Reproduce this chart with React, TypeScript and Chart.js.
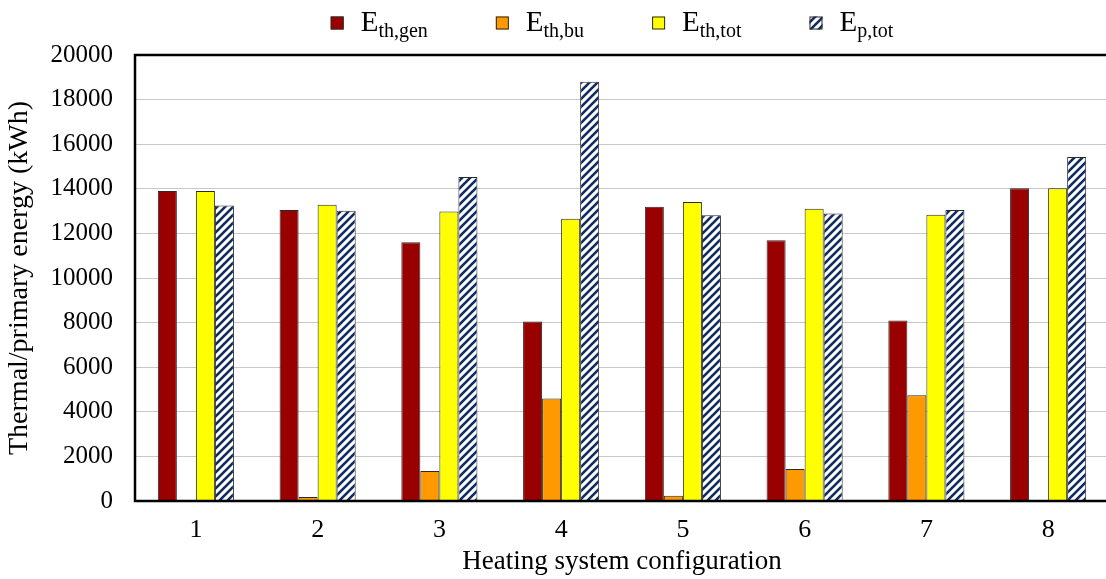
import React, { useEffect, useRef } from 'react';
import { Chart, registerables } from 'chart.js';

Chart.register(...registerables);

// ---- data ----
const categories = ['1', '2', '3', '4', '5', '6', '7', '8'];
const eThGen = [13900, 13050, 11600, 8050, 13200, 11690, 8090, 14020];
const eThBu = [0, 180, 1340, 4600, 230, 1430, 4740, 0];
const eThTot = [13900, 13280, 12980, 12660, 13410, 13100, 12840, 14020];
const ePTot = [13250, 13020, 14530, 18800, 12810, 12890, 13050, 15430];
const seriesNames = ['E_th,gen', 'E_th,bu', 'E_th,tot', 'E_p,tot'];
const legendMain = ['E', 'E', 'E', 'E'];
const legendSub = ['th,gen', 'th,bu', 'th,tot', 'p,tot'];
const yMin = 0;
const yMax = 20000;
const yStep = 2000;
const yTitle = 'Thermal/primary energy (kWh)';
const xTitle = 'Heating system configuration';

const FONT = "'Liberation Serif', 'Times New Roman', serif";
const RED = '#990000';
const ORANGE = '#FF9900';
const YELLOW = '#FFFF00';
const NAVY = '#102C62';
const BORDER = '#2a2a2a';

function makeHatch(): CanvasPattern | string {
  const s = 8;
  const c = document.createElement('canvas');
  c.width = s;
  c.height = s;
  const g = c.getContext('2d');
  if (!g) return NAVY;
  g.fillStyle = '#ffffff';
  g.fillRect(0, 0, s, s);
  g.strokeStyle = NAVY;
  g.lineWidth = 2.6;
  g.lineCap = 'square';
  for (const k of [-1, 0, 1]) {
    g.beginPath();
    g.moveTo(k * s, s);
    g.lineTo(k * s + s, 0);
    g.stroke();
  }
  const p = g.createPattern(c, 'repeat');
  return p || NAVY;
}

export default function App() {
  const ref = useRef<HTMLCanvasElement | null>(null);

  useEffect(() => {
    if (!ref.current) return;
    const hatch = makeHatch();
    const fills: (string | CanvasPattern)[] = [RED, ORANGE, YELLOW, hatch];

    const legendPlugin = {
      id: 'subLegend',
      afterDraw(chart: any) {
        const ctx = chart.ctx as CanvasRenderingContext2D;
        ctx.save();
        const mainFont = `29px ${FONT}`;
        const subFont = `20px ${FONT}`;
        const box = 13;
        const boxGap = 17;
        const itemGap = 68;
        const widths: number[] = [];
        for (let i = 0; i < legendMain.length; i++) {
          ctx.font = mainFont;
          const w1 = ctx.measureText(legendMain[i]).width;
          ctx.font = subFont;
          const w2 = ctx.measureText(legendSub[i]).width;
          widths.push(box + boxGap + w1 + w2);
        }
        const total = widths.reduce((a, b) => a + b, 0) + itemGap * (widths.length - 1);
        let x = 612 - total / 2;
        const cy = 23;
        const baseline = 31;
        for (let i = 0; i < legendMain.length; i++) {
          ctx.fillStyle = fills[i] as any;
          ctx.fillRect(x, cy - box / 2, box, box);
          ctx.strokeStyle = BORDER;
          ctx.lineWidth = 1;
          ctx.strokeRect(x + 0.5, cy - box / 2 + 0.5, box - 1, box - 1);
          let tx = x + box + boxGap;
          ctx.fillStyle = '#000';
          ctx.textBaseline = 'alphabetic';
          ctx.textAlign = 'left';
          ctx.font = mainFont;
          ctx.fillText(legendMain[i], tx, baseline);
          tx += ctx.measureText(legendMain[i]).width;
          ctx.font = subFont;
          ctx.fillText(legendSub[i], tx, baseline + 6);
          x += widths[i] + itemGap;
        }
        ctx.restore();
      },
    };

    const framePlugin = {
      id: 'frame',
      afterDatasetsDraw(chart: any) {
        const { ctx, chartArea } = chart;
        ctx.save();
        ctx.strokeStyle = '#000';
        ctx.lineWidth = 2.5;
        ctx.beginPath();
        ctx.moveTo(chartArea.right + 5, chartArea.top);
        ctx.lineTo(chartArea.left, chartArea.top);
        ctx.lineTo(chartArea.left, chartArea.bottom);
        ctx.lineTo(chartArea.right + 5, chartArea.bottom);
        ctx.stroke();
        ctx.restore();
      },
    };

    const seriesData = [eThGen, eThBu, eThTot, ePTot];
    const chart = new Chart(ref.current, {
      type: 'bar',
      data: {
        labels: categories,
        datasets: seriesData.map((d, i) => ({
          label: seriesNames[i],
          data: d,
          backgroundColor: fills[i] as any,
          borderColor: BORDER,
          borderWidth: 1,
          barPercentage: 1,
          categoryPercentage: 0.625,
        })),
      },
      options: {
        animation: false,
        responsive: false,
        maintainAspectRatio: false,
        layout: { padding: { top: 55, right: 7, left: 0, bottom: 0 } },
        plugins: {
          legend: { display: false },
          tooltip: { enabled: false },
        },
        scales: {
          x: {
            grid: { display: false, drawTicks: false },
            border: { display: false },
            ticks: { color: '#000', font: { family: FONT, size: 26 }, padding: 14 },
            title: { display: true, text: xTitle, color: '#000', font: { family: FONT, size: 27 }, padding: { top: 0, bottom: 1 } },
            afterFit(scale: any) {
              scale.height = 78;
            },
          },
          y: {
            min: yMin,
            max: yMax,
            grid: { color: '#c8c8c8', lineWidth: 1, drawTicks: false },
            border: { display: false },
            ticks: {
              stepSize: yStep,
              color: '#000',
              font: { family: FONT, size: 25 },
              padding: 22,
              callback: (v: any) => String(v),
            },
            title: { display: true, text: yTitle, color: '#000', font: { family: FONT, size: 28 }, padding: { top: 3, bottom: 0 } },
            afterFit(scale: any) {
              scale.width = 135;
            },
          },
        },
      },
      plugins: [legendPlugin, framePlugin],
    });
    return () => chart.destroy();
  }, []);

  return (
    <div style={{ position: 'fixed', left: 0, top: 0, width: 1116, height: 579, background: '#fff' }}>
      <canvas ref={ref} width={1116} height={579} style={{ width: 1116, height: 579, display: 'block' }} />
    </div>
  );
}
